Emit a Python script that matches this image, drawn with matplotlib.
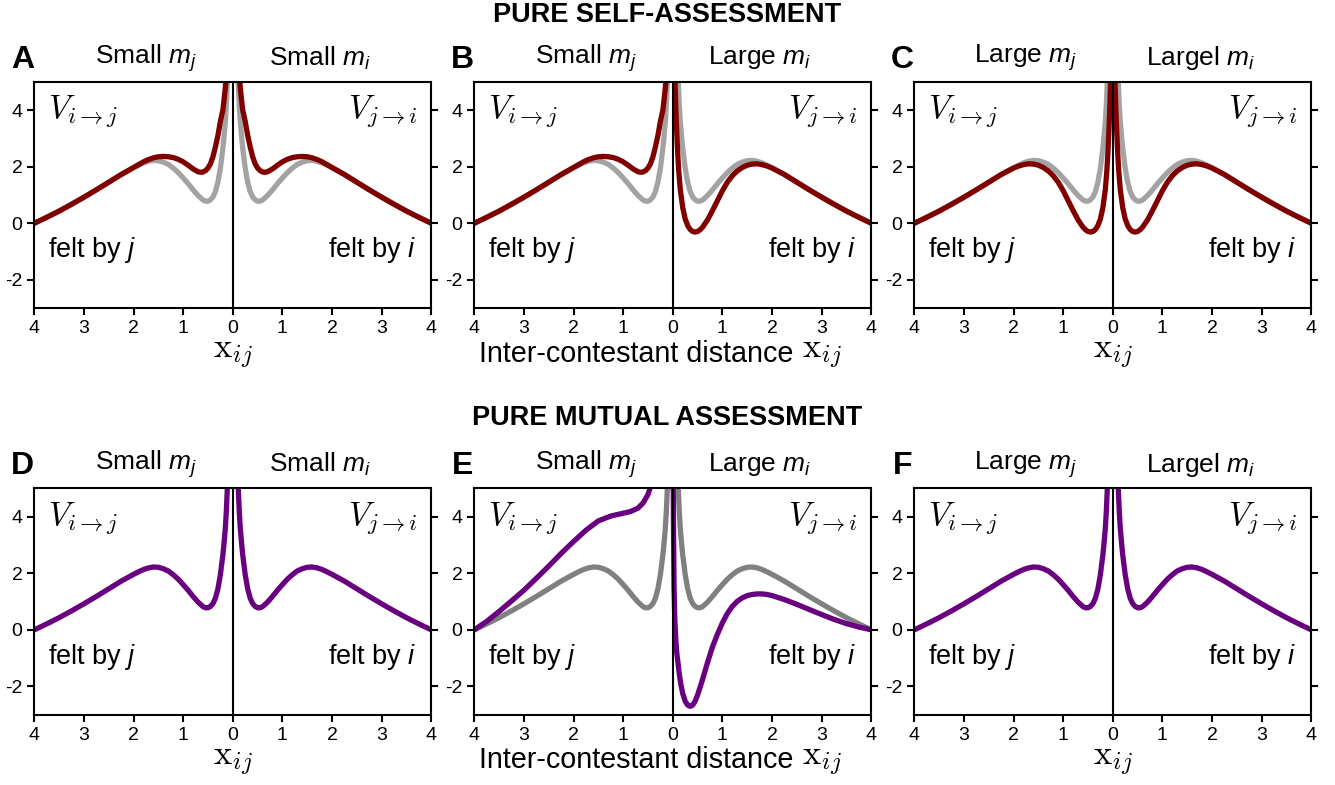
import matplotlib
matplotlib.use("Agg")
import matplotlib.pyplot as plt
import numpy as np

# ---------------- data ----------------
# baseline potential (gray), distance -> value
d_base = [0.09, 0.11, 0.13, 0.15, 0.18, 0.20, 0.25, 0.30, 0.35, 0.40, 0.45, 0.50, 0.55,
          0.60, 0.70, 0.80, 0.90, 1.00, 1.10, 1.20, 1.30, 1.40, 1.50, 1.60, 1.70, 1.80,
          1.90, 2.00, 2.25, 2.50, 2.75, 3.00, 3.25, 3.50, 3.75, 4.00]
v_base = [6.0, 5.0, 4.2, 3.6, 3.0, 2.65, 1.95, 1.45, 1.12, 0.93, 0.83, 0.78, 0.78,
          0.82, 0.98, 1.18, 1.40, 1.60, 1.79, 1.95, 2.08, 2.16, 2.21, 2.22, 2.19, 2.13,
          2.05, 1.96, 1.72, 1.45, 1.18, 0.92, 0.67, 0.43, 0.21, 0.0]

# self-assessment, small m (dark red)
d_self_small = [0.10, 0.13, 0.15, 0.18, 0.20, 0.25, 0.30, 0.35, 0.40, 0.45, 0.50, 0.55,
                0.60, 0.65, 0.70, 0.80, 0.90, 1.00, 1.10, 1.20, 1.30, 1.40, 1.50, 1.60,
                1.70, 1.80, 1.90, 2.00, 2.25, 2.50, 2.75, 3.00, 3.25, 3.50, 3.75, 4.00]
v_self_small = [6.2, 5.3, 4.8, 4.3, 4.0, 3.6, 3.1, 2.7, 2.35, 2.1, 1.95, 1.86,
                1.81, 1.80, 1.82, 1.92, 2.05, 2.17, 2.26, 2.32, 2.35, 2.36, 2.35, 2.31,
                2.25, 2.17, 2.07, 1.97, 1.72, 1.45, 1.18, 0.92, 0.67, 0.43, 0.21, 0.0]

# self-assessment, large m (dark red)
d_self_large = [0.03, 0.045, 0.06, 0.08, 0.10, 0.12, 0.15, 0.20, 0.25, 0.30, 0.35, 0.40,
                0.45, 0.50, 0.55, 0.60, 0.70, 0.80, 0.90, 1.00, 1.10, 1.20, 1.30, 1.40,
                1.50, 1.60, 1.70, 1.80, 1.90, 2.00, 2.25, 2.50, 2.75, 3.00, 3.25, 3.50,
                3.75, 4.00]
v_self_large = [6.0, 5.0, 4.1, 3.2, 2.45, 1.85, 1.2, 0.55, 0.15, -0.08, -0.22, -0.29,
                -0.31, -0.29, -0.23, -0.14, 0.12, 0.45, 0.80, 1.15, 1.45, 1.68, 1.85, 1.97,
                2.05, 2.09, 2.10, 2.07, 2.02, 1.95, 1.72, 1.45, 1.18, 0.92, 0.67, 0.43,
                0.21, 0.0]

# mutual assessment, small m (purple, panel E left)
d_mut_small = [0.35, 0.40, 0.45, 0.50, 0.60, 0.70, 0.85, 1.00, 1.25, 1.50, 1.75, 2.00,
               2.25, 2.50, 2.75, 3.00, 3.25, 3.50, 3.75, 4.00]
v_mut_small = [6.0, 5.4, 5.05, 4.78, 4.48, 4.30, 4.18, 4.12, 4.02, 3.85, 3.52, 3.12,
               2.70, 2.25, 1.82, 1.40, 1.02, 0.65, 0.30, 0.0]

# mutual assessment, large m (purple, panel E right)
d_mut_large = [0.005, 0.015, 0.025, 0.04, 0.06, 0.08, 0.10, 0.13, 0.16, 0.20, 0.25, 0.30,
               0.35, 0.40, 0.45, 0.50, 0.60, 0.70, 0.80, 0.90, 1.00, 1.10, 1.20, 1.30,
               1.40, 1.50, 1.60, 1.70, 1.80, 1.90, 2.00, 2.25, 2.50, 2.75, 3.00, 3.25,
               3.50, 3.75, 4.00]
v_mut_large = [6.0, 3.5, 1.5, 0.4, -0.35, -0.8, -1.1, -1.55, -1.9, -2.25, -2.52, -2.66,
               -2.70, -2.66, -2.52, -2.30, -1.75, -1.15, -0.60, -0.15, 0.25, 0.58, 0.83, 1.01,
               1.13, 1.21, 1.25, 1.27, 1.27, 1.25, 1.21, 1.07, 0.90, 0.72, 0.54, 0.37,
               0.22, 0.10, 0.0]

x_ticks = [-4, -3, -2, -1, 0, 1, 2, 3, 4]
x_ticklabels = ["4", "3", "2", "1", "0", "1", "2", "3", "4"]
y_ticks = [-2, 0, 2, 4]
y_ticklabels = ["-2", "0", "2", "4"]

panel_letters = ["A", "B", "C", "D", "E", "F"]
left_titles = ["Small", "Small", "Large", "Small", "Small", "Large"]
right_titles = ["Small", "Large", "Largel", "Small", "Large", "Largel"]
row_titles = ["PURE SELF-ASSESSMENT", "PURE MUTUAL ASSESSMENT"]

RED = "#800000"
PURPLE = "#68007f"
GRAY_LIGHT = "#a3a3a3"
GRAY_DARK = "#808080"

curves = {
    "base": (d_base, v_base),
    "self_small": (d_self_small, v_self_small),
    "self_large": (d_self_large, v_self_large),
    "mut_small": (d_mut_small, v_mut_small),
    "mut_large": (d_mut_large, v_mut_large),
}

# panel specs: list of (left curve, right curve, color) layers
panels = [
    [("base", "base", GRAY_LIGHT), ("self_small", "self_small", RED)],
    [("base", "base", GRAY_LIGHT), ("self_small", "self_large", RED)],
    [("base", "base", GRAY_LIGHT), ("self_large", "self_large", RED)],
    [("base", "base", PURPLE)],
    [("base", "base", GRAY_DARK), ("mut_small", "mut_large", PURPLE)],
    [("base", "base", PURPLE)],
]

plt.rcParams["font.family"] = ["Liberation Sans", "DejaVu Sans"]
plt.rcParams["mathtext.fontset"] = "custom"
plt.rcParams["mathtext.rm"] = "Liberation Sans"
plt.rcParams["mathtext.it"] = "Liberation Sans:italic"
plt.rcParams["mathtext.bf"] = "Liberation Sans:bold"
plt.rcParams["axes.unicode_minus"] = False

W, H = 1335, 785
fig = plt.figure(figsize=(W / 100, H / 100), dpi=100)

lefts_px = [34.3, 474.3, 914.3]
tops_px = [81.7, 488.3]
aw_px, ah_px = 397.0, 226.5

for k in range(6):
    r, c = divmod(k, 3)
    l = lefts_px[c] / W
    b = 1 - (tops_px[r] + ah_px) / H
    ax = fig.add_axes([l, b, aw_px / W, ah_px / H])
    for (lc, rc, col) in panels[k]:
        dl, vl = curves[lc]
        dr, vr = curves[rc]
        ax.plot(-np.array(dl), vl, color=col, lw=3.8, solid_capstyle="round", zorder=2)
        ax.plot(np.array(dr), vr, color=col, lw=3.8, solid_capstyle="round", zorder=2)
    ax.axvline(0, color="black", lw=1.5, zorder=3)
    ax.set_xlim(-4, 4)
    ax.set_ylim(-3, 5)
    ax.set_xticks(x_ticks)
    ax.set_xticklabels(x_ticklabels, fontsize=14)
    ax.set_yticks(y_ticks)
    ax.set_yticklabels(y_ticklabels, fontsize=14)
    ax.tick_params(axis="y", left=True, right=True, direction="out", length=5, width=1.5)
    ax.tick_params(axis="x", bottom=True, top=False, direction="out", length=5, width=1.5)
    for s in ax.spines.values():
        s.set_linewidth(1.5)

    ax.text(0.035, 0.87, r"$V_{i\rightarrow j}$", transform=ax.transAxes, fontsize=24,
            math_fontfamily="cm", ha="left", va="center")
    ax.text(0.965, 0.87, r"$V_{j\rightarrow i}$", transform=ax.transAxes, fontsize=24,
            math_fontfamily="cm", ha="right", va="center")
    ax.text(0.035, 0.255, r"felt by $j$", transform=ax.transAxes, fontsize=19.5,
            ha="left", va="center")
    ax.text(0.963, 0.255, r"felt by $i$", transform=ax.transAxes, fontsize=19.5,
            ha="right", va="center")

    ax.text(0.28, 1.105, left_titles[k] + r" $m_j$", transform=ax.transAxes, fontsize=19,
            ha="center", va="center")
    ax.text(0.72, 1.105, right_titles[k] + r" $m_i$", transform=ax.transAxes, fontsize=19,
            ha="center", va="center")

    fig.text((lefts_px[c] - 12) / W, 1 - (tops_px[r] - 22) / H, panel_letters[k],
             fontsize=23, fontweight="bold", ha="center", va="center")

    if c == 1:
        ax.text(0.409, -0.2, "Inter-contestant distance", transform=ax.transAxes,
                fontsize=20.7, ha="center", va="center")
        ax.text(0.877, -0.205, r"$\mathrm{x}_{ij}$", transform=ax.transAxes, fontsize=25,
                math_fontfamily="cm", ha="center", va="center")
    else:
        ax.text(0.5, -0.205, r"$\mathrm{x}_{ij}$", transform=ax.transAxes, fontsize=25,
                math_fontfamily="cm", ha="center", va="center")

fig.text(667 / W, 1 - 15 / H, row_titles[0], fontsize=19.5, fontweight="bold",
         ha="center", va="center")
fig.text(667 / W, 1 - 418 / H, row_titles[1], fontsize=19.5, fontweight="bold",
         ha="center", va="center")

fig.savefig("out.png", dpi=100)
